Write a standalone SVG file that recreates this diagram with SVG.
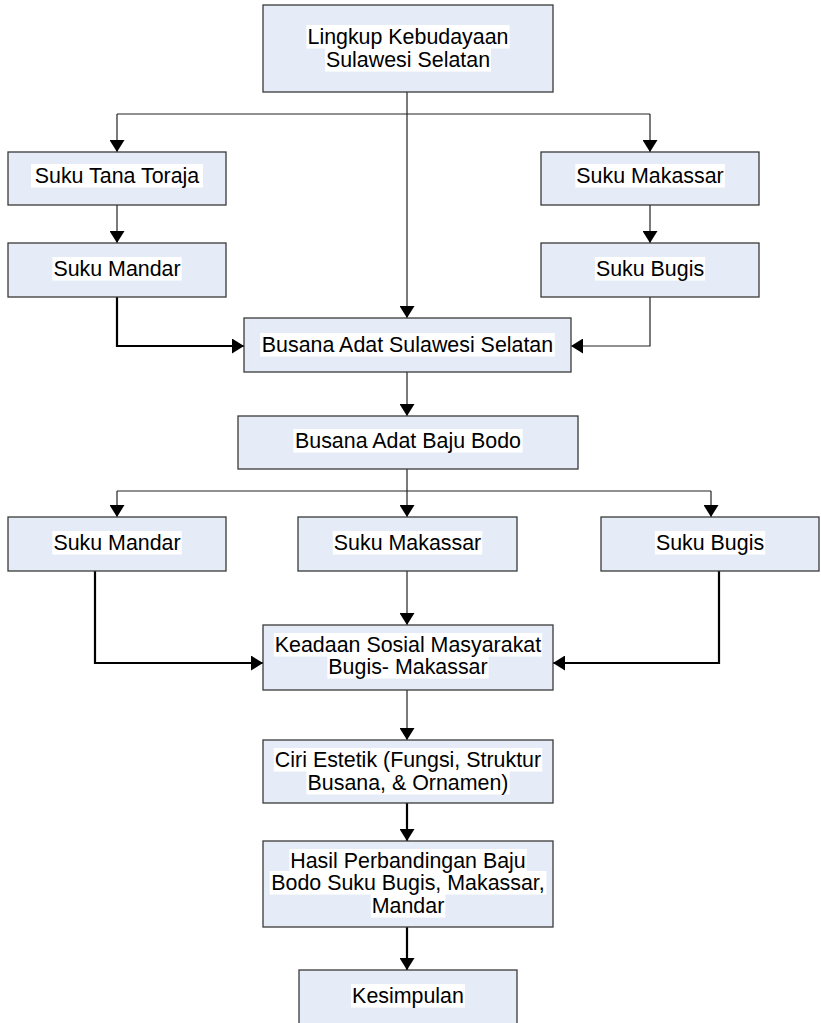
<svg xmlns="http://www.w3.org/2000/svg" width="821" height="1023" viewBox="0 0 821 1023">
<defs>
<style>
.box{fill:#E6ECF7;stroke:#3a3a3a;stroke-width:1.3}
.hl{fill:#ffffff;stroke:none}
.t{font-family:"Liberation Sans",Arial,sans-serif;font-size:21.4px;fill:#000;text-anchor:middle}
.c{fill:none;stroke:#222;stroke-width:1.2;marker-end:url(#ah)}
.c0{fill:none;stroke:#222;stroke-width:1.2}
.k{fill:none;stroke:#000;stroke-width:2.2;marker-end:url(#ah)}
</style>
<marker id="ah" markerUnits="userSpaceOnUse" markerWidth="12" markerHeight="15" viewBox="0 0 12 15" refX="12" refY="7.5" orient="auto">
<path d="M0,0 L12,7.5 L0,15 z" fill="#000"/>
</marker>
</defs>
<g id="connectors">
<path class="c" d="M407,92 V318"/>
<path class="c0" d="M117,114 H650"/>
<path class="c" d="M117,114 V152"/>
<path class="c" d="M650,114 V152"/>
<path class="c" d="M117,205 V243"/>
<path class="c" d="M650,205 V243"/>
<path class="k" d="M117,297 V346 H244"/>
<path class="c" d="M650,297 V346 H571"/>
<path class="c" d="M407,372 V416"/>
<path class="c0" d="M407,469 V491 M117,491 H711"/>
<path class="c" d="M117,491 V517"/>
<path class="c" d="M407,491 V517"/>
<path class="c" d="M711,491 V517"/>
<path class="k" d="M95,567 V663 H263"/>
<path class="k" d="M719,567 V663 H553"/>
<path class="c" d="M407,571 V625"/>
<path class="c" d="M407,690 V740"/>
<path class="k" d="M407,803 V841"/>
<path class="k" d="M407,927 V970"/>
</g>
<g id="lingkup">
<rect class="box" x="263" y="5" width="290" height="87"/>
<rect class="hl" x="306.5" y="25" width="203" height="23.5"/>
<rect class="hl" x="325" y="48" width="166" height="23.5"/>
<text class="t"><tspan x="408" y="44">Lingkup Kebudayaan</tspan><tspan x="408" y="67">Sulawesi Selatan</tspan></text>
</g>
<g id="toraja">
<rect class="box" x="8" y="152" width="218" height="53"/>
<rect class="hl" x="31" y="164" width="172" height="23.5"/>
<text class="t" x="117" y="183">Suku Tana Toraja</text>
</g>
<g id="mandar1">
<rect class="box" x="8" y="243" width="218" height="54"/>
<rect class="hl" x="52.4" y="257" width="129.3" height="23.5"/>
<text class="t" x="117" y="276">Suku Mandar</text>
</g>
<g id="makassar1">
<rect class="box" x="541" y="152" width="218" height="53"/>
<rect class="hl" x="575.3" y="164" width="149.5" height="23.5"/>
<text class="t" x="650" y="183">Suku Makassar</text>
</g>
<g id="bugis1">
<rect class="box" x="541" y="243" width="218" height="54"/>
<rect class="hl" x="594.9" y="257" width="110.2" height="23.5"/>
<text class="t" x="650" y="276">Suku Bugis</text>
</g>
<g id="busana">
<rect class="box" x="244" y="318" width="327" height="54"/>
<rect class="hl" x="260.2" y="333" width="294.6" height="23.5"/>
<text class="t" x="407.5" y="352">Busana Adat Sulawesi Selatan</text>
</g>
<g id="bajubodo">
<rect class="box" x="238" y="416" width="340" height="53"/>
<rect class="hl" x="293.4" y="429" width="229.2" height="23.5"/>
<text class="t" x="408" y="448">Busana Adat Baju Bodo</text>
</g>
<g id="mandar2">
<rect class="box" x="8" y="517" width="218" height="54"/>
<rect class="hl" x="52.4" y="531" width="129.3" height="23.5"/>
<text class="t" x="117" y="550">Suku Mandar</text>
</g>
<g id="makassar2">
<rect class="box" x="298" y="517" width="219" height="54"/>
<rect class="hl" x="332.8" y="531" width="149.5" height="23.5"/>
<text class="t" x="407.5" y="550">Suku Makassar</text>
</g>
<g id="bugis2">
<rect class="box" x="601" y="517" width="218" height="54"/>
<rect class="hl" x="654.9" y="531" width="110.2" height="23.5"/>
<text class="t" x="710" y="550">Suku Bugis</text>
</g>
<g id="keadaan">
<rect class="box" x="263" y="625" width="290" height="65"/>
<rect class="hl" x="273.8" y="633" width="268.4" height="23.5"/>
<rect class="hl" x="327.4" y="655" width="161.3" height="23.5"/>
<text class="t"><tspan x="408" y="652">Keadaan Sosial Masyarakat</tspan><tspan x="408" y="674">Bugis- Makassar</tspan></text>
</g>
<g id="ciri">
<rect class="box" x="263" y="740" width="290" height="63"/>
<rect class="hl" x="273.8" y="748" width="268.4" height="23.5"/>
<rect class="hl" x="306.5" y="771" width="203" height="23.5"/>
<text class="t"><tspan x="408" y="767">Ciri Estetik (Fungsi, Struktur</tspan><tspan x="408" y="790">Busana, &amp; Ornamen)</tspan></text>
</g>
<g id="hasil">
<rect class="box" x="263" y="841" width="290" height="86"/>
<rect class="hl" x="289.3" y="849" width="237.5" height="23.5"/>
<rect class="hl" x="269.7" y="871" width="276.7" height="23.5"/>
<rect class="hl" x="370.8" y="894" width="74.5" height="23.5"/>
<text class="t"><tspan x="408" y="868">Hasil Perbandingan Baju</tspan><tspan x="408" y="890">Bodo Suku Bugis, Makassar,</tspan><tspan x="408" y="913">Mandar</tspan></text>
</g>
<g id="kesimpulan">
<rect class="box" x="299" y="970" width="218" height="60"/>
<rect class="hl" x="351.1" y="984" width="113.8" height="23.5"/>
<text class="t" x="408" y="1003">Kesimpulan</text>
</g>
</svg>
